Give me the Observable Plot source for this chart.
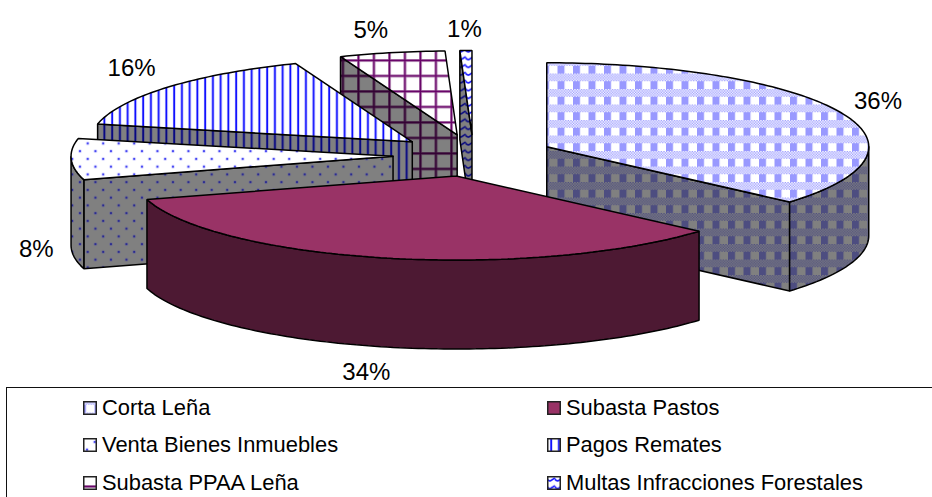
<!DOCTYPE html>
<html>
<head>
<meta charset="utf-8">
<script src="https://cdn.jsdelivr.net/npm/d3@7"></script>
<script src="https://cdn.jsdelivr.net/npm/@observablehq/plot@0.6"></script>
<style>
  html, body { margin: 0; padding: 0; background: #fff; overflow: hidden; width: 932px; height: 497px; }
  body { font-family: "Liberation Sans", Arial, sans-serif; }
  #chart svg { display: block; }
  #legend {
    box-sizing: border-box; height: 110px; margin-left: 6px;
    border-top: 1.5px solid #111; border-left: 1.5px solid #111;
    display: grid; grid-template-columns: 464px 1fr; grid-auto-rows: 37.5px;
    padding: 1px 0 0 75.5px; overflow: hidden;
    font-size: 21.9px; color: #000;
  }
  .item { display: flex; align-items: center; gap: 5.5px; white-space: nowrap; }
  .item svg { flex: none; }
</style>
</head>
<body>
<div id="chart"></div>
<div id="legend"></div>
<script>
// ---- data (percent of the total) ----
const categories = ["Corta Leña", "Subasta Pastos", "Venta Bienes Inmuebles", "Pagos Remates", "Subasta PPAA Leña", "Multas Infracciones Forestales"];
const shares = [36.4, 34.1, 7.9, 15.7, 5.3, 0.6];

// ---- layout of the projected pie ----
const W = 932, H = 387;
const centerX = 473, centerY = 155, radiusX = 322, radiusY = 84, depthPx = 89, explode = 0.25;
const drawOrder = [5, 4, 3, 2, 0, 1];
const gray = "#808080";
const labelNudge = [[0, -2], [-2, 4], [5, 0], [-1, -5], [-3, -1], [4, 1]];
const swatchShift = [[3, 15], [0, 0], [5.7, 7.2], [-1, 0], [2.5, 2.9], [0, 0]];

// ---- pattern fills ----
function tile(id, size, ox, oy, body) {
  return `<pattern id="${id}" patternUnits="userSpaceOnUse" width="${size}" height="${size}" patternTransform="translate(${ox} ${oy})">${body}</pattern>`;
}
function checkBody(bg, fg) {
  const s = 15.5, c = s / 12;
  let out = `<rect width="${s}" height="${s}" fill="${bg}"/><rect width="7" height="${s}" fill="${fg}"/>`;
  out += `<rect y="0" width="${s}" height="${c * 6}" fill="${bg}"/>`;
  for (let r = 0; r < 6; r++) for (let k = 0; k < 12; k++)
    if ((r + k) % 2 === 0) out += `<rect x="${k * c}" y="${r * c}" width="${c}" height="${c}" fill="${fg}"/>`;
  return out;
}
function dotsBody(bg, fg, halo) {
  const s = 15.5;
  const d = (x, y) => `<circle cx="${x}" cy="${y}" r="1.8" fill="${halo}"/><circle cx="${x}" cy="${y}" r="1" fill="${fg}"/>`;
  return `<rect width="${s}" height="${s}" fill="${bg}"/>` + d(3.9, 3.9) + d(11.65, 11.65);
}
function vlinesBody(bg, fg, halo) {
  return `<rect width="7.75" height="7.75" fill="${bg}"/><rect x="0.9" width="2.6" height="7.75" fill="${halo}"/><rect x="1.4" width="1.5" height="7.75" fill="${fg}"/>`;
}
function gridBody(bg, fg, halo) {
  const s = 15.5;
  return `<rect width="${s}" height="${s}" fill="${bg}"/>`
    + `<rect x="0" width="3" height="${s}" fill="${halo}"/><rect y="0" width="${s}" height="3" fill="${halo}"/>`
    + `<rect x="0.6" width="1.6" height="${s}" fill="${fg}"/><rect y="0.6" width="${s}" height="1.6" fill="${fg}"/>`;
}
function waveBody(bg, fg) {
  return `<rect width="7.75" height="7.75" fill="${bg}"/><path d="M-1 1.5 Q2 6 3.9 4.5 T8.75 1.5" fill="none" stroke="${fg}" stroke-width="1.5"/>`;
}
const patterns = [
  tile("p0top", 15.5, 14.5, 11, checkBody("#fff", "#9999ff")),
  tile("p0side", 15.5, 14.5, 11, checkBody(gray, "#4d4d80")),
  tile("p2top", 15.5, 5.8, 15, dotsBody("#fff", "#2222ee", "#ccccff")),
  tile("p2side", 15.5, 5.8, 15, dotsBody(gray, "#1a1a90", "#6a6a90")),
  tile("p3top", 7.75, 1, 0, vlinesBody("#fff", "#0000ff", "#b3b3ff")),
  tile("p3side", 7.75, 1, 0, vlinesBody(gray, "#000080", "#505088")),
  tile("p4top", 15.5, 0, 12, gridBody("#fff", "#660066", "#c09cc0")),
  tile("p4side", 15.5, 0, 12, gridBody(gray, "#330033", "#5a405a")),
  tile("p5top", 7.75, 0, 0, waveBody("#fff", "#0000ff")),
  tile("p5side", 7.75, 0, 0, waveBody(gray, "#000080"))
].join("");

const topFill = ["url(#p0top)", "#993366", "url(#p2top)", "url(#p3top)", "url(#p4top)", "url(#p5top)"];
const sideFill = ["url(#p0side)", "#4d1933", "url(#p2side)", "url(#p3side)", "url(#p4side)", "url(#p5side)"];

// ---- geometry derived from the shares, in pie units (x: radiusX, y: radiusY, y grows down) ----
const depth = depthPx / radiusY;
const total = d3.sum(shares);
const cum = d3.cumsum(shares);
const slices = shares.map((v, i) => {
  const t0 = ((i ? cum[i - 1] : 0) / total) * 2 * Math.PI;
  const t1 = (cum[i] / total) * 2 * Math.PI;
  const mid = (t0 + t1) / 2;
  return { i, t0, t1, mid, ax: explode * Math.sin(mid), ay: -explode * Math.cos(mid) };
});
const rim = (s, t, dz = 0) => ({ x: s.ax + Math.sin(t), y: s.ay - Math.cos(t) + dz });
const apex = (s, dz = 0) => ({ x: s.ax, y: s.ay + dz });
function arc(s, a, b, dz = 0) {
  const n = Math.max(2, Math.ceil(Math.abs(b - a) / 0.02));
  return d3.range(n + 1).map(k => rim(s, a + (b - a) * k / n, dz));
}
const close = pts => [...pts, pts[0]];

function facesOf(s) {
  const faces = [];
  const side = sideFill[s.i];
  // start wall faces the viewer past half a turn, end wall before it
  if (Math.sin(s.t0) < -1e-6) {
    faces.push({ fill: side, pts: close([apex(s), rim(s, s.t0), rim(s, s.t0, depth), apex(s, depth)]) });
  }
  if (Math.sin(s.t1) > 1e-6) {
    faces.push({ fill: side, pts: close([apex(s), rim(s, s.t1), rim(s, s.t1, depth), apex(s, depth)]) });
  }
  // outer wall: front half only
  const a = Math.max(s.t0, Math.PI / 2), b = Math.min(s.t1, 1.5 * Math.PI);
  if (b > a) {
    faces.push({ fill: side, pts: close([...arc(s, a, b), ...arc(s, b, a, depth)]) });
  }
  faces.push({ fill: topFill[s.i], pts: close([apex(s), ...arc(s, s.t0, s.t1)]) });
  return faces;
}

const faceMarks = drawOrder.flatMap(i => facesOf(slices[i]).map(f =>
  Plot.line(f.pts, { x: "x", y: "y", fill: f.fill, stroke: "#000", strokeWidth: 1.5, strokeLinejoin: "miter" })
));

// labels sit just outside the rim on each slice's bisector
const labels = slices.map(s => {
  const sn = Math.sin(s.mid), cs = Math.cos(s.mid);
  const front = cs < 0 ? depth : 0;
  const p = rim(s, s.mid, front);
  const [nx, ny] = labelNudge[s.i];
  return {
    x: p.x + (Math.sign(sn) * Math.sqrt(Math.abs(sn)) * 40 + nx) / radiusX,
    y: p.y + (-cs * 22 + ny) / radiusY,
    text: Math.round(shares[s.i]) + "%"
  };
});

const chart = Plot.plot({
  width: W, height: H,
  marginTop: 0, marginRight: 0, marginBottom: 0, marginLeft: 0,
  x: { domain: [-centerX / radiusX, (W - centerX) / radiusX], range: [0, W], axis: null },
  y: { domain: [-centerY / radiusY, (H - centerY) / radiusY], range: [0, H], axis: null },
  style: { background: "#fff", fontFamily: "Liberation Sans, Arial, sans-serif" },
  marks: [
    () => d3.create("svg:defs").html(patterns).node(),
    ...faceMarks,
    Plot.text(labels, { x: "x", y: "y", text: "text", fontSize: 24, fill: "#000", textAnchor: "middle", lineAnchor: "middle" })
  ]
});
document.getElementById("chart").append(chart);

// ---- legend (below the plot) ----
const legend = d3.select("#legend");
categories.forEach((name, i) => {
  const row = legend.append("div").attr("class", "item");
  const sw = row.append("svg").attr("width", 14).attr("height", 14);
  const [ox, oy] = swatchShift[i];
  sw.append("g").attr("transform", `translate(${-ox} ${-oy})`)
    .append("rect").attr("x", ox + 0.75).attr("y", oy + 0.75).attr("width", 12.5).attr("height", 12.5)
    .attr("fill", topFill[i]).attr("stroke", "#222").attr("stroke-width", 1.5);
  row.append("span").text(name);
});
</script>
</body>
</html>
